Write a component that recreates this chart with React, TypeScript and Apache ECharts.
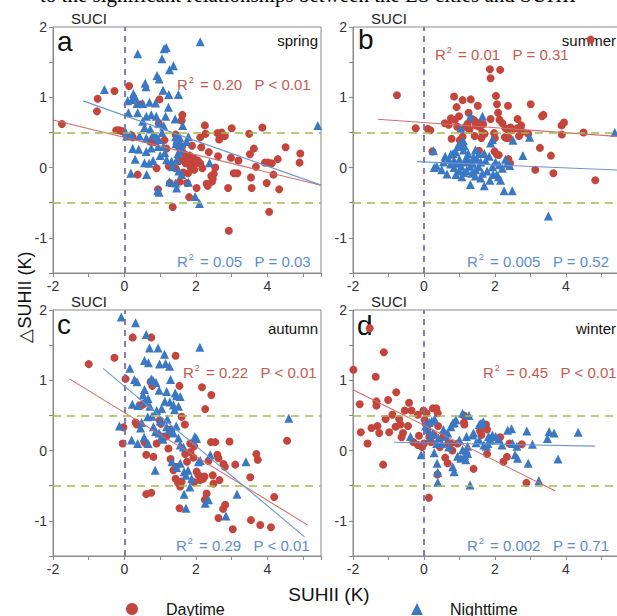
import React, { useEffect, useRef } from 'react';
import * as echarts from 'echarts';

// ---------------- data ----------------
const panelLetters = ['a', 'b', 'c', 'd'];
const seasons = ['spring', 'summer', 'autumn', 'winter'];

const springDay: number[][] = [
  [-1.75, 0.62], [-0.75, 0.98], [-0.77, 0.8], [-0.28, 1.09], [-0.23, 0.53], [-0.15, 0.53], [-0.08, 0.52], [0.13, 1.16],
  [0.2, 0.46], [0.23, 0.43], [0.47, 0.9], [0.37, -0.1], [0.72, 0.37], [0.84, 0.36], [0.96, 0.63], [0.98, 0.97],
  [0.9, -0.01], [0.94, -0.31], [1.12, 0.39], [1.18, 0.27], [1.24, 0.02], [1.27, -0.22], [1.35, -0.56], [1.43, 0.47],
  [1.43, -0.01], [1.52, 0.09], [1.62, 0.75], [1.6, 0.67], [1.61, 0.3], [1.64, -0.07], [1.66, 0.11], [1.69, 0.19],
  [1.71, 0.06], [1.78, -0.08], [1.79, 0.07], [1.82, 0.17], [1.85, 0.01], [1.75, -0.22], [1.81, -0.42], [1.89, 0.31],
  [1.94, 0.13], [1.97, 0.05], [2.02, -0.29], [2.05, 0.1], [2.12, 0.06], [2.12, 0.43], [2.15, 0.29], [2.18, -0.01],
  [2.25, 0.6], [2.27, 0.48], [2.36, 0.22], [2.43, -0.12], [2.45, -0.2], [2.47, -0.16], [2.5, -0.09], [2.54, 0.0],
  [2.6, 0.49], [2.65, 0.4], [2.68, 0.46], [2.72, 0.5], [2.81, 0.45], [2.62, 0.16], [2.9, -0.29], [2.92, -0.9],
  [3.0, 0.56], [2.98, 0.14], [3.06, -0.08], [3.16, -0.08], [3.19, 0.1], [3.49, 0.48], [3.51, 0.19], [3.54, -0.14],
  [3.56, -0.29], [3.62, 0.27], [3.68, 0.01], [3.86, 0.57], [3.93, 0.07], [4.02, 0.07], [4.12, 0.06], [3.98, -0.22],
  [4.05, -0.63], [4.17, -0.1], [4.29, 0.12], [4.33, -0.31], [4.51, 0.29], [4.92, 0.2], [4.9, 0.07], [2.3, -0.23],
  [2.33, -0.26], [1.55, -0.2], [1.9, 0.03], [2.0, 0.08], [1.95, -0.03],
];
const springNight: number[][] = [
  [-0.56, 1.11], [0.09, 0.95], [0.11, 0.78], [0.04, 0.5], [0.06, 0.45], [0.37, 1.62], [0.25, 1.05], [0.3, 1.0],
  [0.21, 0.97], [0.35, 0.91], [0.51, 0.91], [0.58, 1.2], [0.6, 1.15], [0.7, 0.93], [0.87, 0.92], [0.37, 0.78],
  [0.61, 0.73], [0.75, 0.75], [0.89, 0.73], [1.15, 0.73], [0.51, 0.66], [0.96, 0.63], [1.1, 0.59], [0.72, 0.55],
  [0.56, 0.57], [0.18, 0.47], [0.42, 0.45], [0.61, 0.42], [0.8, 0.47], [1.05, 0.5], [0.91, 1.31], [0.97, 1.26],
  [1.05, 1.55], [1.11, 1.69], [1.17, 1.71], [1.26, 1.39], [1.37, 1.45], [1.08, 1.1], [1.24, 1.04], [1.51, 1.04],
  [1.23, 0.86], [1.42, 0.69], [1.63, 0.6], [0.89, 0.44], [0.96, 0.4], [1.09, 0.3], [1.13, 0.21], [1.0, 0.17],
  [1.18, 0.11], [1.32, 0.09], [1.43, 0.44], [1.46, 0.39], [1.5, 0.37], [1.55, 0.42], [1.44, 0.34], [1.52, 0.31],
  [1.6, 0.3], [1.74, 0.37], [1.79, 0.44], [1.35, 0.01], [1.46, 0.11], [1.26, -0.2], [1.43, -0.22], [1.46, -0.29],
  [0.93, -0.33], [0.97, -0.35], [0.62, -0.1], [0.18, -0.08], [1.79, -0.21], [1.98, -0.41], [2.1, -0.51], [2.12, 1.79],
  [2.38, 0.07], [5.41, 0.6], [0.23, 0.27], [0.4, 0.26], [0.61, 0.23], [0.75, 0.28], [0.94, 0.3], [0.56, 0.07],
  [0.69, 0.06], [1.5, 0.2], [1.55, 0.25], [0.3, 0.12], [0.8, 0.1], [1.6, -0.1], [1.52, -0.05],
];
const summerDay: number[][] = [
  [-0.76, 1.03], [-0.23, 0.56], [0.11, 0.55], [0.18, 0.53], [0.24, 0.23], [0.59, 0.63], [0.7, 0.61], [0.76, 0.7],
  [0.85, 1.01], [0.92, 0.86], [0.87, 0.68], [0.94, 0.58], [0.99, 0.73], [1.09, 0.96], [0.78, 0.41], [1.01, 0.39],
  [1.09, 0.44], [1.18, 0.58], [1.23, 0.62], [1.28, 0.54], [1.26, 0.78], [1.32, 0.97], [1.35, 0.69], [1.42, 0.67],
  [1.46, 0.6], [1.54, 0.63], [1.56, 0.58], [1.61, 0.6], [1.67, 0.62], [1.52, 0.88], [1.55, 0.24], [1.65, 0.5],
  [1.71, 0.48], [1.62, 0.42], [1.43, 0.45], [1.86, 1.4], [1.88, 1.27], [2.15, 1.39], [1.88, 0.69], [1.98, 0.49],
  [2.0, 0.42], [1.99, 0.23], [2.05, 0.19], [2.11, 0.18], [2.03, 1.02], [2.06, 0.9], [2.09, 0.78], [2.13, 0.68],
  [2.21, 0.63], [2.3, 0.56], [2.37, 0.54], [2.37, 0.88], [2.28, 0.43], [2.33, 0.42], [2.4, 0.42], [2.38, 0.12],
  [2.43, 0.06], [2.44, 0.57], [2.49, 0.53], [2.63, 0.56], [2.64, 0.69], [2.74, 0.6], [2.77, 0.51], [2.94, 0.48],
  [3.01, 0.9], [2.68, 0.45], [3.14, -0.03], [3.27, 0.28], [3.33, 0.73], [3.37, 0.75], [3.58, 0.17], [3.65, -0.08],
  [3.88, 0.6], [3.95, 0.64], [3.89, 0.47], [4.5, 0.5], [4.83, -0.18], [4.7, 1.82],
];
const summerNight: number[][] = [
  [0.27, 0.24], [0.29, 0.0], [0.36, 0.02], [0.65, -0.09], [0.6, 0.16], [0.7, 0.12], [0.76, 0.19], [0.82, 0.2],
  [0.9, 0.22], [0.95, 0.3], [1.0, 0.34], [1.07, 0.31], [1.31, 0.73], [1.65, 0.73], [1.04, 0.56], [1.11, 0.38],
  [1.14, 0.31], [1.88, 0.35], [1.93, 0.4], [2.51, 0.39], [2.98, 0.43], [2.79, 0.17], [2.26, -0.33], [2.49, -0.33],
  [1.7, -0.26], [1.86, -0.18], [2.1, -0.13], [2.16, -0.18], [1.31, -0.24], [1.07, -0.13], [1.13, -0.07], [3.51, -0.69],
  [5.38, 0.5], [1.37, 0.06], [1.55, 0.01], [1.46, -0.03], [1.65, -0.08], [1.74, 0.1], [1.84, 0.16], [1.93, 0.01],
  [2.02, 0.08], [2.12, 0.04], [2.21, -0.01], [2.35, 0.06], [2.42, 0.03], [0.75, 0.05], [0.85, 0.0], [0.95, 0.06],
  [1.0, 0.12], [1.05, 0.02], [1.15, 0.08], [1.2, 0.15], [1.25, 0.1], [1.3, 0.02], [1.4, 0.15], [1.5, 0.12],
  [1.55, 0.2], [1.6, 0.08], [1.45, 0.25], [1.2, -0.04], [0.9, -0.1], [1.0, -0.05], [1.45, -0.12], [1.6, -0.15],
  [1.78, -0.05], [1.95, -0.1], [2.05, -0.1], [2.3, 0.12], [0.55, 0.08], [0.5, -0.03], [1.25, 0.2], [1.12, 0.25],
  [0.85, 0.1], [1.7, 0.2], [1.35, -0.08],
];
const autumnDay: number[][] = [
  [-1.0, 1.23], [-0.28, 1.32], [0.23, 1.61], [0.75, 1.61], [1.43, 1.35], [0.03, 1.02], [0.73, 0.98], [0.78, 0.92],
  [0.42, 0.64], [0.5, 0.65], [0.55, 0.67], [0.31, 0.4], [0.35, 0.37], [-0.03, 0.33], [1.54, 0.92], [1.6, 0.48],
  [1.69, 0.37], [-0.05, 0.1], [0.56, 0.12], [0.6, 0.1], [0.61, -0.06], [0.81, -0.09], [0.9, 0.1], [0.98, 0.43],
  [1.02, 0.38], [1.1, 0.2], [1.17, 0.2], [1.23, 0.03], [1.29, -0.12], [1.37, -0.28], [1.45, -0.23], [1.43, -0.4],
  [1.5, -0.46], [1.56, -0.51], [1.6, -0.44], [1.54, -0.82], [0.61, -0.62], [0.75, -0.6], [1.7, -0.05], [1.75, -0.16],
  [1.85, -0.02], [1.93, -0.1], [2.02, -0.3], [1.84, 0.1], [1.95, 0.06], [2.07, -0.35], [2.12, -0.42], [2.2, -0.4],
  [2.24, -0.37], [2.17, 0.9], [2.26, 0.59], [2.43, 0.79], [2.25, -0.7], [2.3, -0.61], [2.42, 0.12], [2.54, 0.12],
  [2.47, -0.35], [2.49, -0.47], [2.6, -0.06], [2.63, -0.11], [2.63, -0.96], [2.66, -0.42], [2.77, -0.19], [2.81, -0.23],
  [2.76, -0.83], [2.82, -0.77], [2.94, 0.13], [3.03, -1.12], [3.1, -0.2], [3.52, -0.38], [3.54, -0.99], [3.69, -0.05],
  [3.73, -0.13], [3.8, -1.06], [4.1, -1.09], [4.19, -0.66], [4.55, 0.14], [1.95, -0.45], [2.35, -0.15], [1.3, 0.3],
];
const autumnNight: number[][] = [
  [-0.09, 1.9], [0.31, 1.82], [0.61, 1.65], [0.7, 1.46], [0.94, 1.46], [1.12, 1.37], [2.11, 1.47], [0.56, 1.28],
  [0.67, 1.25], [0.15, 1.17], [0.98, 1.23], [1.15, 1.24], [0.28, 1.01], [0.35, 0.98], [0.75, 1.02], [0.8, 1.0],
  [0.88, 0.97], [1.26, 1.2], [1.29, 1.01], [0.56, 0.87], [0.97, 0.86], [1.18, 0.84], [1.42, 0.82], [1.46, 0.78],
  [1.56, 0.77], [0.52, 0.79], [0.58, 0.7], [0.66, 0.74], [0.71, 0.63], [0.38, 0.64], [0.22, 0.66], [-0.14, 0.35],
  [0.48, 0.4], [0.65, 0.48], [0.77, 0.49], [0.9, 0.57], [1.04, 0.6], [1.13, 0.7], [1.27, 0.69], [1.37, 0.65],
  [1.4, 0.58], [1.51, 0.63], [0.81, 0.34], [0.87, 0.27], [0.97, 0.25], [1.04, 0.2], [1.08, 0.16], [1.18, 0.34],
  [1.24, 0.29], [1.32, 0.29], [1.37, 0.25], [1.51, 0.18], [1.56, 0.08], [0.55, 0.19], [0.66, 0.1], [0.37, 0.1],
  [0.86, -0.28], [1.33, -0.16], [1.46, -0.24], [1.56, -0.18], [1.67, -0.3], [1.72, -0.35], [1.78, -0.28], [1.67, -0.62],
  [1.72, -0.82], [1.97, 0.2], [2.02, 0.17], [2.07, -0.16], [2.12, -0.14], [1.88, -0.4], [1.83, -0.52], [2.26, -0.75],
  [2.35, -0.7], [2.4, -0.06], [3.15, -0.62], [3.4, -0.16], [2.84, -0.93], [4.6, 0.46], [1.0, 0.42], [1.2, 0.45],
  [0.2, 0.15], [1.65, 0.05], [1.45, 0.35], [0.45, 0.32],
];
const winterDay: number[][] = [
  [-1.99, 1.15], [-1.53, 1.74], [-1.13, 1.4], [-1.36, 1.05], [-1.81, 0.66], [-1.34, 0.7], [-1.34, 0.64], [-1.01, 0.72],
  [-0.78, 0.83], [-0.42, 0.68], [-0.54, 0.57], [-0.35, 0.57], [-0.17, 0.51], [-0.89, 0.51], [-1.08, 0.45], [-1.31, 0.35],
  [-1.48, 0.32], [-1.26, 0.25], [-1.78, 0.26], [-1.59, 0.1], [-0.98, 0.26], [-0.8, 0.34], [-0.66, 0.37], [-0.59, 0.25],
  [-0.63, 0.19], [-1.15, -0.2], [-0.14, 0.21], [-0.17, 0.08], [0.14, -0.67], [-0.01, 0.57], [0.07, 0.53], [0.25, 0.6],
  [0.35, 0.6], [0.39, 0.53], [-0.7, 0.45], [-0.45, 0.35], [-0.3, 0.12], [0.02, 0.44], [0.05, 0.38], [0.1, 0.3],
  [0.15, 0.2], [0.2, 0.12], [0.28, 0.22], [0.4, 0.35], [0.45, 0.05], [0.55, 0.2], [0.6, -0.1], [0.67, -0.18],
  [0.68, 0.1], [0.75, 0.1], [0.38, -0.34], [0.8, 0.0], [1.13, 0.5], [1.13, 0.4], [1.14, 0.37], [1.2, -0.05],
  [1.4, -0.26], [1.58, 0.28], [1.62, 0.22], [1.7, 0.32], [1.75, 0.37], [1.78, 0.3], [1.78, -0.05], [2.15, 0.19],
  [2.24, -0.16], [2.34, -0.09], [2.41, 0.1], [2.76, 0.09], [2.89, -0.46], [0.0, 0.1], [-0.05, 0.05], [0.95, 0.1],
];
const winterNight: number[][] = [
  [-0.38, 0.2], [-0.08, -0.06], [0.05, 0.35], [0.1, 0.3], [0.15, 0.4], [0.22, 0.42], [0.18, 0.2], [0.25, 0.25],
  [0.29, -0.03], [0.36, 0.1], [0.41, 0.18], [0.37, -0.18], [0.39, -0.31], [0.39, -0.45], [0.62, 0.2], [0.67, 0.25],
  [0.76, 0.34], [0.81, 0.39], [0.85, 0.4], [0.9, 0.44], [0.81, -0.23], [0.85, -0.3], [1.09, 0.53], [1.27, 0.5],
  [1.37, 0.22], [0.95, -0.08], [1.04, -0.11], [1.09, 0.01], [1.15, -0.07], [1.23, -0.04], [1.18, -0.13], [1.23, 0.06],
  [1.3, -0.49], [1.47, 0.11], [1.56, 0.15], [1.56, 0.37], [1.61, 0.39], [1.67, 0.41], [1.69, 0.08], [1.76, 0.06],
  [1.82, 0.2], [1.88, 0.15], [1.93, 0.22], [2.02, 0.2], [2.1, 0.16], [2.36, 0.29], [2.47, 0.31], [2.57, -0.06],
  [2.62, 0.06], [2.64, -0.11], [2.9, 0.28], [2.94, -0.18], [3.06, 0.09], [3.24, -0.43], [3.48, 0.17], [3.53, 0.27],
  [3.67, 0.25], [3.78, -0.12], [4.35, 0.26], [0.5, 0.1], [0.55, 0.3], [1.0, 0.15], [1.4, 0.25], [0.3, 0.45],
  [0.7, 0.05], [1.2, 0.2], [1.8, 0.1], [2.2, 0.08], [2.5, 0.1],
];

const dayData = [springDay, summerDay, autumnDay, winterDay];
const nightData = [springNight, summerNight, autumnNight, winterNight];

// regression fits: [slope, intercept, xStart, xEnd]
const dayFit: number[][] = [[-0.124, 0.43, -2, 5.5], [-0.036, 0.64, -1.3, 5.5], [-0.312, 0.54, -1.54, 5.12], [-0.252, 0.36, -2, 3.71]];
const nightFit: number[][] = [[-0.18, 0.74, -1.16, 5.5], [-0.021, 0.08, -0.2, 5.5], [-0.425, 0.915, -0.6, 5.04], [-0.0097, 0.11, -0.85, 4.82]];

const dayR2 = ['0.20', '0.01', '0.22', '0.45'];
const dayP = ['P < 0.01', 'P = 0.31', 'P < 0.01', 'P < 0.01'];
const nightR2 = ['0.05', '0.005', '0.29', '0.002'];
const nightP = ['P = 0.03', 'P = 0.52', 'P < 0.01', 'P = 0.71'];

const xTickLabels = [-2, 0, 2, 4];
const yTickLabels = [-1, 0, 1, 2];
const thresholdLines = [0.5, -0.5];
const suciLines = [0];

// ---------------- layout / style ----------------
const FONT = '"Liberation Sans", Arial, Helvetica, sans-serif';
const RED = '#c3453c';
const BLUE = '#3b78c4';
const RED_TXT = '#c65a50';
const BLUE_TXT = '#5a8dd0';
const RED_LINE = '#cf6f6f';
const BLUE_LINE = '#6d97cf';
const GREEN = '#a7b94c';
const PURPLE = '#7a6fb6';
const AXIS = '#8a8a8a';

const boxes = [
  { left: 53, top: 27, width: 268, height: 246 },
  { left: 353, top: 27, width: 266, height: 246 },
  { left: 53, top: 310, width: 268, height: 246 },
  { left: 353, top: 310, width: 266, height: 246 },
];
const redTxtPos = [[177, 84], [435, 54.5], [183, 372.5], [483, 372.5]];
const blueTxtPos = [[177, 261], [467, 261], [176, 545], [467, 545]];
const letterPos = [[57, 55], [358, 53], [57, 338], [357, 339]];

function r2Text(x: number, y: number, r2: string, p: string, color: string) {
  return {
    type: 'text',
    x,
    y,
    silent: true,
    style: {
      text: `{r|R}{s|2}{r| = ${r2}   ${p}}`,
      align: 'left',
      verticalAlign: 'middle',
      textAlign: 'left',
      textVerticalAlign: 'middle',
      fill: color,
      rich: {
        r: { fontSize: 15, fontFamily: FONT, fill: color, lineHeight: 18 },
        s: { fontSize: 9, fontFamily: FONT, fill: color, lineHeight: 10, verticalAlign: 'top', padding: [0, 2, 0, 1] },
      },
    },
  };
}

function plainText(x: number, y: number, text: string, size: number, align: string, vAlign: string, color = '#111', extra: any = {}) {
  return {
    type: 'text',
    x,
    y,
    silent: true,
    ...extra,
    style: {
      text,
      fontSize: size,
      fontFamily: FONT,
      fill: color,
      align,
      verticalAlign: vAlign,
      textAlign: align,
      textVerticalAlign: vAlign,
    },
  };
}

export default function App() {
  const ref = useRef<HTMLDivElement>(null);
  useEffect(() => {
    if (!ref.current) return;
    const chart = echarts.init(ref.current, undefined, { renderer: 'svg' });

    const grid: any[] = [];
    const xAxis: any[] = [];
    const yAxis: any[] = [];
    const series: any[] = [];
    const graphic: any[] = [];

    for (let i = 0; i < 4; i++) {
      const b = boxes[i];
      grid.push({ ...b, show: true, borderColor: AXIS, borderWidth: 1, backgroundColor: 'transparent' });
      xAxis.push({
        type: 'value', gridIndex: i, min: -2, max: 5.5, interval: 1,
        axisLine: { show: true, onZero: false, lineStyle: { color: AXIS, width: 1 } },
        axisTick: { show: true, inside: false, length: 4, lineStyle: { color: AXIS } },
        splitLine: { show: false },
        axisLabel: {
          margin: 6, color: '#333', fontSize: 14, fontFamily: FONT,
          formatter: (v: number) => (xTickLabels.includes(v) ? String(v) : ''),
        },
      });
      yAxis.push({
        type: 'value', gridIndex: i, min: -1.5, max: 2, interval: 0.5,
        axisLine: { show: true, onZero: false, lineStyle: { color: AXIS, width: 1 } },
        axisTick: { show: true, inside: false, length: 4, lineStyle: { color: AXIS } },
        splitLine: { show: false },
        axisLabel: {
          margin: 6, color: '#333', fontSize: 14, fontFamily: FONT,
          formatter: (v: number) => (yTickLabels.includes(v) ? String(v) : ''),
        },
      });

      // reference dashed lines
      series.push({
        type: 'scatter', xAxisIndex: i, yAxisIndex: i, data: [], z: 1, silent: true,
        markLine: {
          silent: true, symbol: ['none', 'none'], label: { show: false }, animation: false,
          data: [
            ...thresholdLines.map((v) => ({ yAxis: v, lineStyle: { color: GREEN, type: [8, 6], width: 1.6 } })),
            ...suciLines.map((v) => ({ xAxis: v, lineStyle: { color: PURPLE, type: [6, 5], width: 1.8 } })),
          ],
        },
      });

      series.push({
        type: 'scatter', name: 'Daytime', xAxisIndex: i, yAxisIndex: i, data: dayData[i],
        symbol: 'circle', symbolSize: 8, itemStyle: { color: RED, opacity: 1 }, z: 3,
      });
      series.push({
        type: 'scatter', name: 'Nighttime', xAxisIndex: i, yAxisIndex: i, data: nightData[i],
        symbol: 'triangle', symbolSize: 9, itemStyle: { color: BLUE, opacity: 1 }, z: 3,
      });

      const df = dayFit[i];
      const nf = nightFit[i];
      series.push({
        type: 'line', xAxisIndex: i, yAxisIndex: i, silent: true, z: 4,
        data: [[df[2], df[0] * df[2] + df[1]], [df[3], df[0] * df[3] + df[1]]],
        symbol: 'none', showSymbol: false, lineStyle: { color: RED_LINE, width: 1.1 },
      });
      series.push({
        type: 'line', xAxisIndex: i, yAxisIndex: i, silent: true, z: 4,
        data: [[nf[2], nf[0] * nf[2] + nf[1]], [nf[3], nf[0] * nf[3] + nf[1]]],
        symbol: 'none', showSymbol: false, lineStyle: { color: BLUE_LINE, width: 1.1 },
      });

      // annotations
      graphic.push(plainText(b.left + 36, b.top - 8.5, 'SUCI', 15, 'center', 'middle', '#222'));
      graphic.push(plainText(letterPos[i][0], letterPos[i][1], panelLetters[i], 28, 'left', 'bottom', '#111'));
      graphic.push(plainText(b.left + b.width - 3, b.top + (i < 2 ? 13.5 : 18), seasons[i], 15, 'right', 'middle', '#111'));
      graphic.push(r2Text(redTxtPos[i][0], redTxtPos[i][1], dayR2[i], dayP[i], RED_TXT));
      graphic.push(r2Text(blueTxtPos[i][0], blueTxtPos[i][1], nightR2[i], nightP[i], BLUE_TXT));
    }

    graphic.push(plainText(329, 594, 'SUHII (K)', 19, 'center', 'middle', '#111'));
    graphic.push(plainText(25, 297, '\u25B3SUHII (K)', 18, 'center', 'middle', '#111', { rotation: Math.PI / 2 }));
    graphic.push({
      type: 'text', x: 308, y: 5, silent: true,
      style: {
        text: 'to the significant relationships between the LS cities and SUHII',
        fontSize: 21, fontFamily: '"Liberation Serif", "Times New Roman", serif', fill: '#000',
        align: 'center', verticalAlign: 'bottom', textAlign: 'center', textVerticalAlign: 'bottom',
      },
    });

    chart.setOption({
      animation: false,
      backgroundColor: '#fff',
      grid,
      xAxis,
      yAxis,
      series,
      graphic,
      legend: [
        {
          data: [{ name: 'Daytime', icon: 'circle' }], left: 121, top: 596, itemWidth: 12, itemHeight: 12,
          selectedMode: false, textStyle: { fontSize: 16, color: '#111', fontFamily: FONT, padding: [0, 0, 0, 23] },
        },
        {
          data: [{ name: 'Nighttime', icon: 'triangle' }], left: 406, top: 596, itemWidth: 12, itemHeight: 12,
          selectedMode: false, textStyle: { fontSize: 16, color: '#111', fontFamily: FONT, padding: [0, 0, 0, 22] },
        },
      ],
    });
    return () => chart.dispose();
  }, []);

  return (
    <div style={{ position: 'fixed', left: 0, top: 0, width: 617, height: 616, overflow: 'hidden', background: '#fff' }}>
      <div ref={ref} style={{ width: 640, height: 616 }} />
    </div>
  );
}
